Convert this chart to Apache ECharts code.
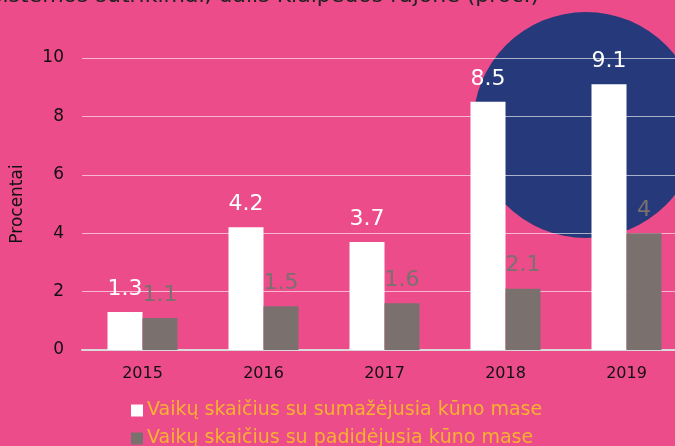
<!DOCTYPE html>
<html>
<head>
<meta charset="utf-8">
<script src="https://cdn.jsdelivr.net/npm/echarts@6/dist/echarts.min.js"></script>
<style>
  html, body { margin: 0; padding: 0; background: #EC4C8A; }
  #chart { width: 675px; height: 446px; }
</style>
</head>
<body>
<div id="chart"></div>
<script>
// duomenys
const years = ["2015", "2016", "2017", "2018", "2019"];
const decreased = [1.3, 4.2, 3.7, 8.5, 9.1];
const increased = [1.1, 1.5, 1.6, 2.1, 4];
const seriesNames = [
  "Vaikų skaičius su sumažėjusia kūno mase",
  "Vaikų skaičius su padidėjusia kūno mase",
];
const titleText = "sistemos sutrikimai, dalis Klaipėdos rajone (proc.)";

const FONT = "DejaVu Sans";
const GREY = "#7A716F";

const chart = echarts.init(document.getElementById("chart"));

chart.setOption({
  backgroundColor: "#EC4C8A",
  animation: false,
  textStyle: { fontFamily: FONT },
  grid: { left: 82, width: 605, top: 58, bottom: 96, outerBoundsMode: "none" },
  graphic: [
    {
      type: "circle",
      z: -10,
      shape: { cx: 586, cy: 125, r: 113 },
      style: { fill: "#263A7B" },
    },
    {
      type: "text",
      style: {
        text: titleText,
        x: 539,
        y: -4,
        align: "right",
        verticalAlign: "middle",
        fill: "#222",
        font: "22px " + FONT,
      },
    },
  ],
  legend: {
    orient: "vertical",
    left: 131,
    top: 401,
    height: 80,
    padding: 0,
    itemWidth: 12,
    itemHeight: 12,
    itemGap: 9,
    icon: "rect",
    textStyle: { color: "#F7B22F", fontSize: 19, fontFamily: FONT, padding: [0, 0, 0, -1] },
    data: seriesNames,
  },
  xAxis: {
    type: "category",
    data: years,
    axisLine: { lineStyle: { color: "#D9D9D9", width: 2 } },
    axisTick: { show: false },
    axisLabel: { color: "#111", fontSize: 16, margin: 16 },
  },
  yAxis: {
    type: "value",
    min: 0,
    max: 10,
    interval: 2,
    name: "Procentai",
    nameLocation: "middle",
    nameRotate: 90,
    nameGap: 56,
    nameTextStyle: { color: "#111", fontSize: 17 },
    axisLine: { show: false },
    axisTick: { show: false },
    axisLabel: { color: "#111", fontSize: 17, margin: 18 },
    splitLine: { lineStyle: { color: "rgba(255,255,255,0.6)", width: 1 } },
  },
  series: [
    {
      name: seriesNames[0],
      type: "bar",
      data: decreased,
      barWidth: 35,
      barGap: "0%",
      itemStyle: { color: "#FFFFFF" },
      label: { show: true, position: "top", distance: 12, color: "#FFFFFF", fontSize: 22 },
    },
    {
      name: seriesNames[1],
      type: "bar",
      data: increased,
      barWidth: 35,
      itemStyle: { color: GREY },
      label: { show: true, position: "top", distance: 12, color: GREY, fontSize: 22 },
    },
  ],
});
</script>
</body>
</html>
